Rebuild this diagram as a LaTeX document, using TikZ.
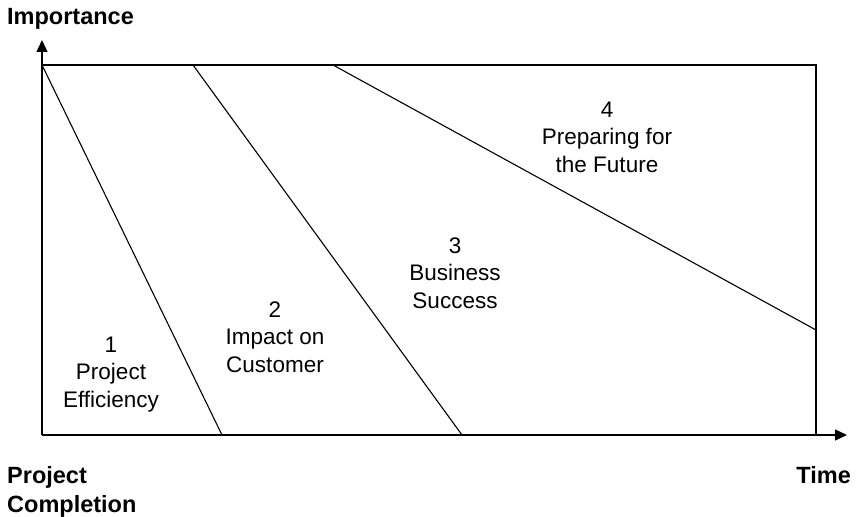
\documentclass[tikz,border=0pt]{standalone}
\usepackage{fontspec}
\setmainfont{Liberation Sans}
\usetikzlibrary{arrows.meta}
\begin{document}
\begin{tikzpicture}[x=1pt,y=-1pt,
  axis/.style={line width=1.3pt,-{Triangle[length=12pt,width=11pt]}},
  frame/.style={line width=1.3pt},
  divider/.style={line width=1.1pt},
  zonelabel/.style={font=\fontsize{22.5}{27.5}\selectfont,align=center,anchor=base,inner sep=0pt},
  axislabel/.style={font=\fontsize{23.5}{29}\selectfont\bfseries,align=left,anchor=base west,inner sep=0pt}]
\useasboundingbox (0,0) rectangle (858,516);
% frame corners
\coordinate (O) at (42,435);
\coordinate (TL) at (42,65);
\coordinate (TR) at (816,65);
\coordinate (BR) at (816,435);
\coordinate (Ytip) at (42,40);
\coordinate (Xtip) at (847,435);
% divider ends
\coordinate (a1) at (42,65);   \coordinate (b1) at (222,435);
\coordinate (a2) at (193,65);  \coordinate (b2) at (462,435);
\coordinate (a3) at (333,65);  \coordinate (b3) at (816,330);
% axes and frame
\draw[axis] (O) -- (Ytip);
\draw[axis] (O) -- (Xtip);
\draw[frame] (TL) -- (TR) -- (BR);
% dividers
\draw[divider] (a1) -- (b1);
\draw[divider] (a2) -- (b2);
\draw[divider] (a3) -- (b3);
% zone labels (anchor = baseline of last line)
\node[zonelabel] (z1) at (111,407) {1\\Project\\Efficiency};
\node[zonelabel] (z2) at (275,372) {2\\Impact on\\Customer};
\node[zonelabel] (z3) at (455,308) {3\\Business\\Success};
\node[zonelabel] (z4) at (607,172) {4\\Preparing for\\the Future};
% axis labels
\node[axislabel] (imp) at (7,25) {Importance};
\node[axislabel] (pc) at (7,512) {Project\\Completion};
\node[axislabel,anchor=base east] (time) at (851,483) {Time};
\end{tikzpicture}
\end{document}
